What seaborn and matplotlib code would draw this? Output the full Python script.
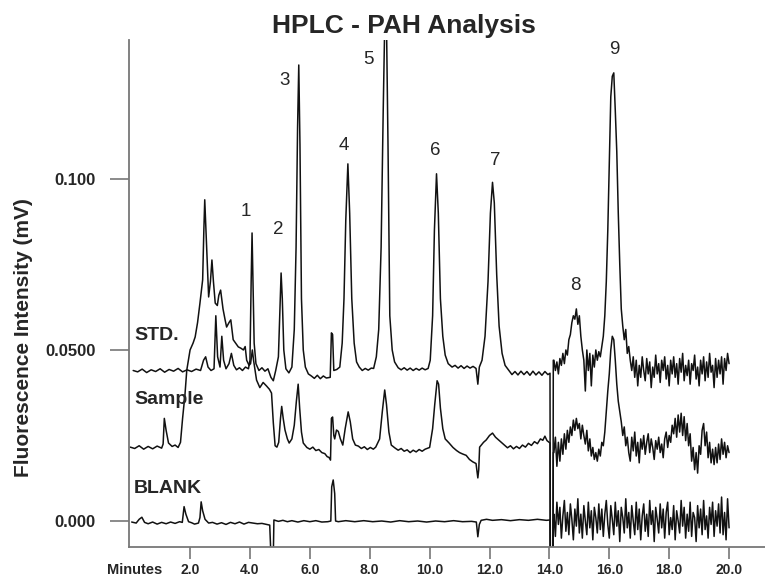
import numpy as np
import pandas as pd
import matplotlib
matplotlib.use("Agg")
import matplotlib.pyplot as plt
import seaborn as sns

# --- data (minutes, mV) ---

# STD trace up to the detector jump at 14 min
std_pre = [
    (0.10, 0.0440), (0.25, 0.0436), (0.40, 0.0444), (0.55, 0.0434), (0.70, 0.0442),
    (0.85, 0.0437), (1.00, 0.0445), (1.15, 0.0435), (1.30, 0.0443), (1.45, 0.0438),
    (1.60, 0.0446), (1.75, 0.0436), (1.90, 0.0442), (2.05, 0.0437), (2.20, 0.0444),
    (2.35, 0.0440), (2.45, 0.0470), (2.52, 0.0480), (2.60, 0.0450), (2.70, 0.0440),
    (2.80, 0.0445), (2.86, 0.0600), (2.92, 0.0480), (3.00, 0.0450), (3.06, 0.0540),
    (3.12, 0.0470), (3.20, 0.0445), (3.30, 0.0460), (3.38, 0.0490), (3.46, 0.0455),
    (3.55, 0.0442), (3.65, 0.0448), (3.75, 0.0440), (3.85, 0.0450), (3.95, 0.0445),
    (4.00, 0.0470), (4.04, 0.0700), (4.07, 0.0842), (4.10, 0.0700), (4.14, 0.0520),
    (4.20, 0.0460), (4.30, 0.0440), (4.40, 0.0448), (4.50, 0.0438), (4.60, 0.0445),
    (4.70, 0.0420), (4.78, 0.0410), (4.86, 0.0440), (4.95, 0.0480), (5.00, 0.0620),
    (5.04, 0.0725), (5.08, 0.0650), (5.13, 0.0500), (5.20, 0.0445), (5.30, 0.0433),
    (5.40, 0.0450), (5.48, 0.0560), (5.54, 0.0800), (5.59, 0.1150), (5.63, 0.1333),
    (5.67, 0.1100), (5.72, 0.0650), (5.78, 0.0500), (5.85, 0.0450), (5.95, 0.0430),
    (6.05, 0.0424), (6.15, 0.0417), (6.25, 0.0426), (6.35, 0.0416), (6.45, 0.0424),
    (6.55, 0.0418), (6.68, 0.0420),
    (6.72, 0.0550), (6.76, 0.0545), (6.80, 0.0440), (6.90, 0.0443), (7.00, 0.0450),
    (7.08, 0.0520), (7.14, 0.0650), (7.20, 0.0880), (7.27, 0.1044), (7.33, 0.0900),
    (7.40, 0.0650), (7.48, 0.0520), (7.56, 0.0465), (7.65, 0.0450), (7.75, 0.0440),
    (7.85, 0.0446), (7.95, 0.0441), (8.05, 0.0447), (8.13, 0.0446), (8.22, 0.0480),
    (8.30, 0.0560), (8.38, 0.0800),
    (8.45, 0.1200), (8.50, 0.1450), (8.56, 0.1450), (8.61, 0.1100), (8.67, 0.0600),
    (8.75, 0.0500), (8.83, 0.0465), (8.95, 0.0448), (9.05, 0.0442), (9.15, 0.0448),
    (9.25, 0.0441), (9.35, 0.0447), (9.45, 0.0440), (9.55, 0.0446), (9.65, 0.0441),
    (9.75, 0.0447), (9.85, 0.0442), (9.95, 0.0446), (10.02, 0.0470), (10.10, 0.0600),
    (10.16, 0.0850), (10.23, 0.1015), (10.29, 0.0900), (10.36, 0.0650), (10.44, 0.0540),
    (10.52, 0.0485), (10.62, 0.0460), (10.75, 0.0450), (10.85, 0.0455), (10.95, 0.0447),
    (11.05, 0.0454), (11.15, 0.0446), (11.25, 0.0453), (11.35, 0.0447), (11.45, 0.0452),
    (11.55, 0.0446), (11.61, 0.0400), (11.66, 0.0450), (11.75, 0.0470),
    (11.85, 0.0540), (11.95, 0.0700), (12.03, 0.0900), (12.10, 0.0990), (12.16, 0.0930),
    (12.24, 0.0720), (12.32, 0.0570), (12.42, 0.0490), (12.52, 0.0455), (12.65, 0.0440),
    (12.75, 0.0428), (12.85, 0.0437), (12.95, 0.0427), (13.05, 0.0438), (13.15, 0.0428),
    (13.25, 0.0437), (13.35, 0.0426), (13.45, 0.0438), (13.55, 0.0427), (13.65, 0.0436),
    (13.75, 0.0426), (13.85, 0.0437), (13.95, 0.0428), (14.02, 0.0432),
    (14.03, -0.0100), (14.12, -0.0100), (14.13, 0.0470),
]

sample_pre = [
    (0.00, 0.0216), (0.15, 0.0212), (0.30, 0.0220), (0.45, 0.0210), (0.60, 0.0218),
    (0.75, 0.0211), (0.90, 0.0219), (1.05, 0.0213), (1.10, 0.0225), (1.14, 0.0300),
    (1.20, 0.0265), (1.28, 0.0228), (1.40, 0.0218), (1.50, 0.0222), (1.60, 0.0215),
    (1.68, 0.0230), (1.75, 0.0300), (1.83, 0.0370), (1.89, 0.0441), (2.00, 0.0500),
    (2.10, 0.0520), (2.17, 0.0538), (2.25, 0.0580), (2.33, 0.0637), (2.42, 0.0705),
    (2.46, 0.0850), (2.49, 0.0939), (2.53, 0.0850), (2.57, 0.0760), (2.62, 0.0655),
    (2.68, 0.0700), (2.73, 0.0763), (2.78, 0.0700), (2.84, 0.0637), (2.91, 0.0630),
    (2.96, 0.0660), (3.02, 0.0675), (3.10, 0.0620), (3.17, 0.0588), (3.22, 0.0567),
    (3.30, 0.0580), (3.36, 0.0588), (3.44, 0.0530), (3.52, 0.0520), (3.61, 0.0509),
    (3.70, 0.0505), (3.78, 0.0500), (3.84, 0.0510), (3.89, 0.0470), (3.97, 0.0455),
    (4.02, 0.0460), (4.08, 0.0500), (4.12, 0.0470), (4.22, 0.0412), (4.33, 0.0390),
    (4.44, 0.0405), (4.55, 0.0395), (4.65, 0.0385), (4.72, 0.0374), (4.78, 0.0287),
    (4.84, 0.0220), (4.90, 0.0216), (4.96, 0.0230), (5.02, 0.0300), (5.06, 0.0335),
    (5.11, 0.0300), (5.17, 0.0266), (5.25, 0.0240), (5.31, 0.0228), (5.40, 0.0240),
    (5.48, 0.0280), (5.55, 0.0350), (5.61, 0.0400), (5.66, 0.0330), (5.72, 0.0260),
    (5.78, 0.0228), (5.90, 0.0215), (6.00, 0.0210), (6.10, 0.0216), (6.20, 0.0206),
    (6.30, 0.0209), (6.40, 0.0200), (6.50, 0.0197), (6.58, 0.0188), (6.64, 0.0186),
    (6.69, 0.0178), (6.72, 0.0300), (6.76, 0.0304),
    (6.80, 0.0250), (6.83, 0.0240), (6.89, 0.0266), (6.95, 0.0262), (7.02, 0.0240),
    (7.10, 0.0222), (7.18, 0.0270), (7.28, 0.0319), (7.35, 0.0290), (7.43, 0.0240),
    (7.52, 0.0222), (7.62, 0.0219), (7.72, 0.0212), (7.82, 0.0217), (7.92, 0.0209),
    (8.02, 0.0215), (8.12, 0.0210), (8.20, 0.0216),
    (8.33, 0.0240), (8.42, 0.0320), (8.50, 0.0383), (8.56, 0.0340), (8.64, 0.0260),
    (8.72, 0.0222), (8.85, 0.0213), (8.95, 0.0207), (9.05, 0.0212), (9.15, 0.0204),
    (9.25, 0.0208), (9.35, 0.0200), (9.45, 0.0207), (9.55, 0.0202), (9.65, 0.0209),
    (9.75, 0.0204), (9.85, 0.0210), (10.00, 0.0215), (10.10, 0.0270), (10.17, 0.0340),
    (10.25, 0.0410), (10.30, 0.0400), (10.36, 0.0330), (10.44, 0.0270), (10.52, 0.0240),
    (10.65, 0.0228), (10.78, 0.0215), (10.90, 0.0206), (11.00, 0.0200), (11.10, 0.0196),
    (11.22, 0.0192), (11.33, 0.0180), (11.44, 0.0173), (11.55, 0.0168),
    (11.61, 0.0126), (11.64, 0.0150), (11.67, 0.0216), (11.80, 0.0230), (11.89, 0.0237),
    (12.00, 0.0250), (12.10, 0.0257), (12.20, 0.0245), (12.33, 0.0235), (12.50, 0.0222),
    (12.60, 0.0214), (12.70, 0.0220), (12.80, 0.0211), (12.90, 0.0218), (13.00, 0.0212),
    (13.10, 0.0222), (13.20, 0.0216), (13.30, 0.0227), (13.40, 0.0221), (13.50, 0.0232),
    (13.60, 0.0226), (13.70, 0.0240), (13.78, 0.0236), (13.85, 0.0248), (13.92, 0.0235),
    (14.02, 0.0228), (14.03, -0.0100), (14.12, -0.0100), (14.13, 0.0200),
]

blank_pre = [
    (0.05, -0.0003), (0.20, -0.0006), (0.30, 0.0005), (0.39, 0.0011), (0.48, -0.0004),
    (0.60, -0.0008), (0.75, -0.0003), (0.90, -0.0009), (1.05, -0.0004), (1.20, -0.0008),
    (1.35, -0.0003), (1.50, -0.0007), (1.65, -0.0002), (1.74, -0.0004), (1.80, 0.0042),
    (1.86, 0.0020), (1.95, -0.0002), (2.05, -0.0005), (2.15, -0.0009), (2.28, -0.0006),
    (2.33, 0.0010), (2.37, 0.0056), (2.42, 0.0030), (2.50, 0.0005), (2.62, -0.0006),
    (2.75, -0.0004), (2.90, -0.0009), (3.05, -0.0005), (3.20, -0.0010), (3.35, -0.0004),
    (3.50, -0.0008), (3.65, -0.0003), (3.80, -0.0009), (3.95, -0.0004), (4.10, -0.0006),
    (4.25, -0.0008), (4.40, -0.0007), (4.55, -0.0010), (4.66, -0.0012), (4.70, -0.0100),
    (4.78, -0.0100), (4.80, 0.0003), (4.95, -0.0001), (5.10, 0.0002), (5.25, -0.0002),
    (5.40, 0.0001), (5.60, -0.0003), (5.80, 0.0001), (6.00, -0.0002), (6.20, 0.0001),
    (6.40, -0.0003), (6.60, -0.0002), (6.70, 0.0000), (6.73, 0.0100), (6.78, 0.0120),
    (6.83, 0.0080), (6.86, 0.0000), (6.95, -0.0002), (7.20, 0.0001), (7.50, -0.0002),
    (7.80, 0.0001), (8.10, -0.0002), (8.40, 0.0000), (8.70, -0.0003), (9.00, 0.0001),
    (9.30, -0.0002), (9.60, 0.0000), (9.90, -0.0003), (10.20, 0.0000), (10.50, -0.0002),
    (10.80, 0.0001), (11.10, -0.0002), (11.40, -0.0001), (11.56, -0.0003), (11.61, -0.0046),
    (11.66, -0.0010), (11.72, 0.0002), (11.90, 0.0005), (12.10, 0.0002), (12.40, 0.0004),
    (12.70, 0.0001), (13.00, 0.0004), (13.30, 0.0002), (13.60, 0.0005), (13.90, 0.0002),
    (14.02, 0.0003), (14.03, -0.0100), (14.12, -0.0100), (14.13, 0.0000),
]

# noisy part after 14 min, one value every 0.05 min from 14.15 to 20.00
noise_t = np.round(np.arange(14.15, 20.001, 0.05), 2)

std_post = [
    0.0470, 0.0440, 0.0465, 0.0430, 0.0475, 0.0455, 0.0490, 0.0460, 0.0500, 0.0485,
    0.0530, 0.0545, 0.0580, 0.0600, 0.0590, 0.0620, 0.0575, 0.0600, 0.0540, 0.0500,
    0.0470, 0.0380, 0.0500, 0.0440, 0.0490, 0.0395, 0.0485, 0.0450, 0.0500, 0.0470,
    0.0495, 0.0480, 0.0510, 0.0540, 0.0600, 0.0700, 0.0850, 0.1050, 0.1240, 0.1300,
    0.1310, 0.1200, 0.1080, 0.0900, 0.0750, 0.0620, 0.0570, 0.0530, 0.0560, 0.0490,
    0.0510, 0.0470, 0.0440, 0.0480, 0.0420, 0.0470, 0.0395, 0.0455, 0.0420, 0.0480,
    0.0440, 0.0410, 0.0475, 0.0430, 0.0465, 0.0390, 0.0450, 0.0420, 0.0485, 0.0430,
    0.0460, 0.0405, 0.0470, 0.0440, 0.0480, 0.0415, 0.0455, 0.0395, 0.0470, 0.0430,
    0.0480, 0.0420, 0.0460, 0.0400, 0.0475, 0.0435, 0.0490, 0.0410, 0.0455, 0.0425,
    0.0470, 0.0400, 0.0460, 0.0440, 0.0485, 0.0415, 0.0450, 0.0395, 0.0470, 0.0430,
    0.0480, 0.0410, 0.0465, 0.0420, 0.0490, 0.0435, 0.0455, 0.0390, 0.0475, 0.0420,
    0.0470, 0.0430, 0.0480, 0.0400, 0.0475, 0.0440, 0.0490, 0.0460,
]

sample_post = [
    0.0200, 0.0245, 0.0160, 0.0230, 0.0175, 0.0240, 0.0195, 0.0255, 0.0210, 0.0265,
    0.0230, 0.0275, 0.0250, 0.0295, 0.0265, 0.0300, 0.0270, 0.0285, 0.0240, 0.0280,
    0.0250, 0.0225, 0.0265, 0.0205, 0.0240, 0.0190, 0.0215, 0.0180, 0.0200, 0.0175,
    0.0210, 0.0190, 0.0230, 0.0220, 0.0260, 0.0320, 0.0380, 0.0430, 0.0500, 0.0540,
    0.0530, 0.0470, 0.0400, 0.0350, 0.0320, 0.0290, 0.0250, 0.0275, 0.0220, 0.0245,
    0.0200, 0.0175, 0.0245, 0.0205, 0.0260, 0.0190, 0.0230, 0.0170, 0.0240, 0.0210,
    0.0250, 0.0195, 0.0230, 0.0255, 0.0200, 0.0240, 0.0215, 0.0180, 0.0235, 0.0210,
    0.0245, 0.0200, 0.0225, 0.0185, 0.0240, 0.0260, 0.0215, 0.0250, 0.0230, 0.0280,
    0.0255, 0.0300, 0.0245, 0.0310, 0.0260, 0.0315, 0.0250, 0.0305, 0.0235, 0.0285,
    0.0220, 0.0255, 0.0175, 0.0215, 0.0150, 0.0200, 0.0140, 0.0220, 0.0195, 0.0265,
    0.0285, 0.0220, 0.0260, 0.0185, 0.0230, 0.0170, 0.0210, 0.0165, 0.0215, 0.0170,
    0.0225, 0.0180, 0.0240, 0.0195, 0.0230, 0.0185, 0.0220, 0.0200,
]

blank_post = [
    0.0020, -0.0045, 0.0055, -0.0010, 0.0040, -0.0050, 0.0015, 0.0060, -0.0030, 0.0025,
    -0.0040, 0.0050, 0.0005, -0.0055, 0.0035, -0.0015, 0.0065, -0.0035, 0.0020, -0.0050,
    0.0045, 0.0000, -0.0040, 0.0055, -0.0020, 0.0030, -0.0055, 0.0040, 0.0010, -0.0035,
    0.0050, -0.0025, 0.0035, -0.0045, 0.0020, 0.0060, -0.0010, -0.0050, 0.0045, 0.0005,
    -0.0040, 0.0055, -0.0015, 0.0030, -0.0060, 0.0040, 0.0010, -0.0035, 0.0065, -0.0020,
    0.0025, -0.0050, 0.0045, 0.0000, -0.0040, 0.0055, -0.0025, 0.0035, -0.0055, 0.0015,
    0.0050, -0.0030, 0.0020, -0.0045, 0.0060, -0.0010, 0.0030, -0.0060, 0.0040, 0.0005,
    -0.0035, 0.0050, -0.0020, 0.0035, -0.0050, 0.0025, 0.0055, -0.0040, 0.0010, -0.0025,
    0.0045, -0.0055, 0.0030, 0.0000, -0.0035, 0.0060, -0.0015, 0.0040, -0.0050, 0.0020,
    -0.0030, 0.0055, -0.0045, 0.0025, 0.0010, -0.0060, 0.0045, -0.0020, 0.0035, -0.0040,
    0.0060, -0.0025, 0.0015, -0.0050, 0.0040, -0.0010, 0.0055, -0.0045, 0.0030, -0.0015,
    0.0050, -0.0035, 0.0070, -0.0040, 0.0025, -0.0055, 0.0065, -0.0020,
]

# trace names with label position (minutes, mV)
trace_labels = ["STD.", "Sample", "BLANK"]
trace_label_pos = [(0.13, 0.0541), (0.13, 0.0354), (0.13, 0.0096)]

# peak numbers and where they are written
peak_names = ["1", "2", "3", "4", "5", "6", "7", "8", "9"]
peak_label_t = [3.87, 4.95, 5.14, 7.12, 7.95, 10.19, 12.19, 14.86, 16.18]
peak_label_v = [0.0904, 0.0853, 0.1287, 0.1099, 0.1348, 0.1083, 0.1054, 0.0687, 0.1377]

x_ticks = [2, 4, 6, 8, 10, 12, 14, 16, 18, 20]
x_tick_labels = ["2.0", "4.0", "6.0", "8.0", "10.0", "12.0", "14.0", "16.0", "18.0", "20.0"]
y_ticks = [0.0, 0.05, 0.10]
y_tick_labels = ["0.000", "0.0500", "0.100"]


def build(pre, post, name):
    t = [p[0] for p in pre] + list(noise_t)
    v = [p[1] for p in pre] + list(post)
    return pd.DataFrame({"minutes": t, "intensity": v, "trace": name})


df = pd.concat([
    build(std_pre, std_post, "STD"),
    build(sample_pre, sample_post, "Sample"),
    build(blank_pre, blank_post, "BLANK"),
], ignore_index=True)

sns.set_style("white")
plt.rcParams["font.family"] = ["Liberation Sans", "DejaVu Sans"]

fig = plt.figure(figsize=(7.65, 5.81), dpi=100)
ax = fig.add_axes([0.169, 0.0585, 0.831, 0.8726])

for name in ["STD", "Sample", "BLANK"]:
    sns.lineplot(data=df[df["trace"] == name], x="minutes", y="intensity",
                 estimator=None, sort=False, color="#111111", lw=1.1, ax=ax)

ax.set_xlim(-0.03, 21.2)
ax.set_ylim(-0.0076, 0.1406)

ax.set_xticks(x_ticks)
ax.set_xticklabels(x_tick_labels, fontsize=10, fontweight="bold")
ax.set_yticks(y_ticks)
ax.set_yticklabels(y_tick_labels, fontsize=12, fontweight="bold")
ax.tick_params(axis="x", bottom=True, direction="out", length=8.5, width=1.2,
               color="#777777", pad=3)
ax.tick_params(axis="y", left=True, direction="out", length=13.5, width=1.2,
               color="#777777", pad=11)

for side in ["top", "right"]:
    ax.spines[side].set_visible(False)
for side in ["left", "bottom"]:
    ax.spines[side].set_color("#777777")
    ax.spines[side].set_linewidth(1.3)

ax.set_xlabel("")
ax.set_ylabel("Fluorescence Intensity (mV)", fontsize=15, fontweight="bold")
ax.yaxis.set_label_coords(-0.152, 0.414)

for name, (tx, ty) in zip(trace_labels, trace_label_pos):
    ax.text(tx, ty, name, fontsize=14, fontweight="bold", ha="left", va="center")

for name, tx, ty in zip(peak_names, peak_label_t, peak_label_v):
    ax.text(tx, ty, name, fontsize=13.5, ha="center", va="center")

fig.text(135 / 765, 1 - 570 / 581, "Minutes", fontsize=10.5, fontweight="bold",
         ha="center", va="center")
fig.text(404 / 765, 1 - 26 / 581, "HPLC - PAH Analysis", fontsize=19,
         fontweight="bold", ha="center", va="center")

fig.savefig("out.png", dpi=100)
